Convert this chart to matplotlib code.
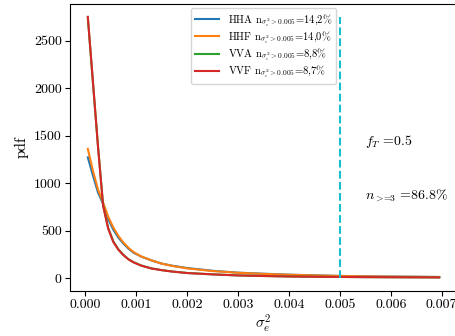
import matplotlib
matplotlib.use("Agg")
import matplotlib.pyplot as plt

plt.rcParams["font.family"] = "serif"
plt.rcParams["font.serif"] = ["cmr10"]
plt.rcParams["mathtext.fontset"] = "cm"
plt.rcParams["axes.formatter.use_mathtext"] = True

# sigma_e^2 sample positions
x = [0.00005, 0.00015, 0.00025, 0.00035, 0.00045, 0.00055, 0.00065, 0.00075,
     0.00085, 0.00095, 0.0011, 0.0013, 0.0015, 0.0017, 0.002, 0.0025, 0.003,
     0.0035, 0.004, 0.0045, 0.005, 0.0055, 0.006, 0.0065, 0.00695]

hha = [1270, 1080, 900, 780, 620, 510, 425, 362, 308, 266, 225, 185, 152, 130,
       105, 76, 56, 45, 35, 28, 22, 18, 15, 13, 11]
hhf = [1360, 1130, 930, 795, 645, 532, 442, 372, 316, 272, 226, 186, 151, 128,
       101, 73, 55, 43, 34, 27, 21, 17, 14, 12, 10]
vva = [2740, 2060, 1390, 770, 525, 385, 302, 242, 197, 166, 131, 101, 83, 69,
       53, 38, 27, 21, 16, 13, 11, 9, 8, 7, 6]
vvf = [2750, 2070, 1380, 760, 520, 380, 298, 240, 195, 164, 130, 100, 82, 68,
       52, 38, 27, 21, 16, 13, 11, 9, 8, 7, 6]

labels = ["HHA", "HHF", "VVA", "VVF"]
frac_above = ["14,2", "14,0", "8,8", "8,7"]
series = [hha, hhf, vva, vvf]
colors = ["#1f77b4", "#ff7f0e", "#2ca02c", "#d62728"]

fig = plt.figure(figsize=(4.56, 3.36), dpi=100)
ax = fig.add_axes([70 / 456, 45 / 336, 387 / 456, 287 / 336])

for lab, frac, y, c in zip(labels, frac_above, series, colors):
    ax.plot(x, y, color=c, linewidth=1.5,
            label=lab + r" n$_{\sigma_e^2>0.005}$=" + frac + r"%")

ax.vlines(0.005, 0, 2750, colors="#17becf", linestyles="--", linewidth=1.5)

ax.set_xlim(-0.0003, 0.0073)
ax.set_ylim(-137, 2885)
ax.set_xticks([0.0, 0.001, 0.002, 0.003, 0.004, 0.005, 0.006, 0.007])
ax.set_xticklabels(["0.000", "0.001", "0.002", "0.003", "0.004", "0.005",
                    "0.006", "0.007"])
ax.set_yticks([0, 500, 1000, 1500, 2000, 2500])
ax.set_yticklabels(["0", "500", "1000", "1500", "2000", "2500"])
ax.tick_params(labelsize=10, pad=2.5)
ax.set_xlabel(r"$\sigma_e^2$", fontsize=11, labelpad=1)
ax.set_ylabel("pdf", fontsize=11)

ax.text(0.0055, 1400, r"$f_T$ =0.5", fontsize=10)
ax.text(0.0055, 830, r"$n_{>\!\!=\!\!3}$ =86.8%", fontsize=10)

ax.legend(loc="upper center", fontsize=7.6, handlelength=2.3,
          labelspacing=0.05, borderaxespad=0.4, borderpad=0.35)

fig.savefig("out.png", dpi=100)
